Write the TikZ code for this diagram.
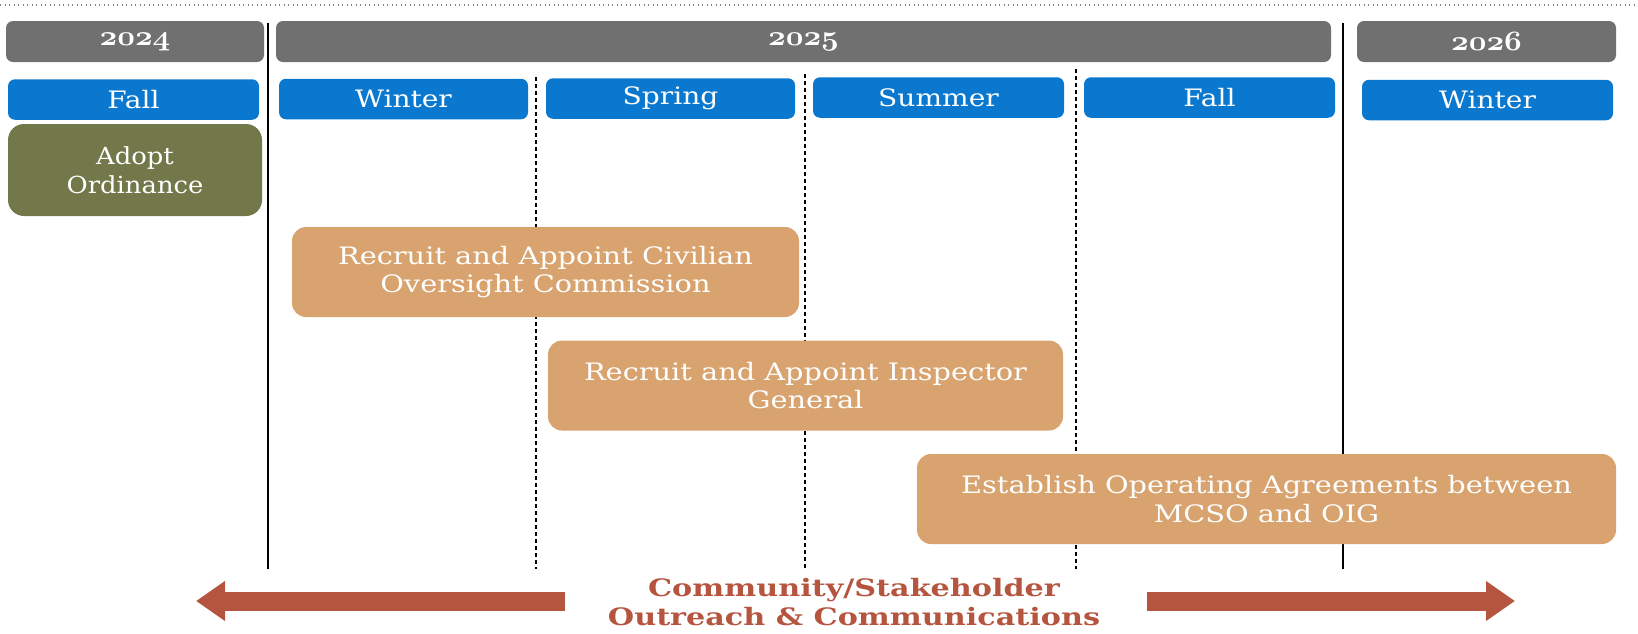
\RequirePackage{fix-cm}
\documentclass[tikz,border=0pt]{standalone}
\usepackage{graphicx}
\usepackage{fontspec}
\setmainfont{DejaVu Serif}
\newfontfamily\taskfont{DejaVu Serif}[FakeStretch=1.2]
\newfontfamily\seasonfont{DejaVu Serif}[FakeStretch=1.17]
\newfontfamily\adoptfont{DejaVu Serif}[FakeStretch=1.1]
\newfontfamily\outfont{DejaVu Serif}[FakeStretch=1.26]
\usetikzlibrary{arrows.meta}
\definecolor{yeargray}{HTML}{707070}
\definecolor{seasonblue}{HTML}{0B78CF}
\definecolor{olivebox}{HTML}{72784A}
\definecolor{tanbox}{HTML}{D8A36E}
\definecolor{arrowred}{HTML}{B5553F}
\newcommand{\yearlabel}[1]{\scalebox{1.1}[1]{$\mathnormal{#1}$}}
\tikzset{
  yearbox/.style={rounded corners=7pt, fill=yeargray, text=white, minimum height=41pt, inner sep=0pt, font=\fontsize{28}{28}\selectfont\boldmath},
  seasonbox/.style={rounded corners=7pt, fill=seasonblue, text=white, minimum height=40.5pt, inner sep=0pt, font=\seasonfont\fontsize{24}{26}\selectfont},
  taskbox/.style={rounded corners=14pt, fill=tanbox, text=white, minimum height=90pt, inner sep=0pt, align=center, font=\taskfont\fontsize{24}{28.5}\selectfont},
  adoptbox/.style={rounded corners=16pt, fill=olivebox, text=white, minimum height=92pt, inner sep=0pt, align=center, font=\adoptfont\fontsize{23.5}{28.5}\selectfont},
  solidsep/.style={draw=black, line width=1.4pt},
  dashsep/.style={draw=black, line width=1.3pt, dash pattern=on 4pt off 3pt},
  outarrow/.style={draw=arrowred, line width=19pt, -{Triangle[length=29pt, width=38pt]}},
}
\begin{document}
\begin{tikzpicture}[x=1pt, y=-1pt]
\useasboundingbox (0,0) rectangle (1638,633);
% top dotted rule
\coordinate (dotL) at (0,5);
\coordinate (dotR) at (1638,5);
\draw[gray, line width=1.3pt, dash pattern=on 1.3pt off 3.2pt] (dotL) -- (dotR);
% year headers
\node[yearbox, minimum width=258pt] (y24) at (135,41.5) {\yearlabel{2024}};
\node[yearbox, minimum width=1055pt] (y25) at (803.5,41.5) {\yearlabel{2025}};
\node[yearbox, minimum width=259pt] (y26) at (1486.5,41.5) {\yearlabel{2026}};
% separators
\coordinate (s1t) at (268,23); \coordinate (s1b) at (268,569);
\coordinate (s2t) at (1343,23); \coordinate (s2b) at (1343,569);
\coordinate (d1t) at (536,77); \coordinate (d1b) at (536,569);
\coordinate (d2t) at (805,74); \coordinate (d2b) at (805,569);
\coordinate (d3t) at (1076,69); \coordinate (d3b) at (1076,569);
\draw[solidsep] (s1t) -- (s1b);
\draw[solidsep] (s2t) -- (s2b);
\draw[dashsep] (d1t) -- (d1b);
\draw[dashsep] (d2t) -- (d2b);
\draw[dashsep] (d3t) -- (d3b);
% seasons
\node[seasonbox, minimum width=251pt] (fall24) at (133.5,99.5) {Fall};
\node[seasonbox, minimum width=249pt] (win25) at (403.5,99) {Winter};
\node[seasonbox, minimum width=249pt] (spr25) at (670.5,98.5) {Spring};
\node[seasonbox, minimum width=251pt] (sum25) at (938.5,97.5) {Summer};
\node[seasonbox, minimum width=251pt] (fall25) at (1209.5,97.5) {Fall};
\node[seasonbox, minimum width=251pt] (win26) at (1487.5,100) {Winter};
% tasks
\node[adoptbox, minimum width=254pt] (adopt) at (135,170) {Adopt\\Ordinance};
\node[taskbox, minimum width=507pt] (coc) at (545.5,272) {Recruit and Appoint Civilian\\Oversight Commission};
\node[taskbox, minimum width=515pt] (ig) at (805.5,385.5) {Recruit and Appoint Inspector\\General};
\node[taskbox, minimum width=699pt] (oa) at (1266.5,499) {Establish Operating Agreements between\\MCSO and OIG};
% outreach
\node[text=arrowred, align=center, font=\outfont\bfseries\fontsize{24}{29}\selectfont] (out) at (854,602) {Community/Stakeholder\\Outreach \& Communications};
\coordinate (laS) at (565,601); \coordinate (laE) at (196,601);
\coordinate (raS) at (1147,601); \coordinate (raE) at (1515,601);
\draw[outarrow] (laS) -- (laE);
\draw[outarrow] (raS) -- (raE);
\end{tikzpicture}
\end{document}
